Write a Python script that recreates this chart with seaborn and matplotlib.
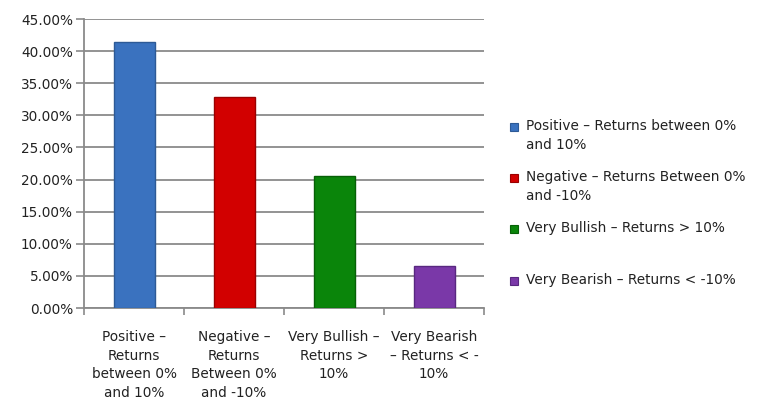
import matplotlib
matplotlib.use("Agg")
import matplotlib.pyplot as plt
import seaborn as sns
import pandas as pd
from matplotlib.patches import Rectangle
from matplotlib.ticker import FixedLocator

categories = ["Positive –\nReturns\nbetween 0%\nand 10%",
              "Negative –\nReturns\nBetween 0%\nand -10%",
              "Very Bullish –\nReturns >\n10%",
              "Very Bearish\n– Returns < -\n10%"]
values = [41.4, 32.9, 20.5, 6.6]
legend_labels = ["Positive – Returns between 0%\nand 10%",
                 "Negative – Returns Between 0%\nand -10%",
                 "Very Bullish – Returns > 10%",
                 "Very Bearish – Returns < -10%"]
colors = ["#3a72bf", "#d20000", "#0a850a", "#7a38a8"]
edges = ["#2d5a96", "#9a0000", "#066006", "#582880"]
yticks = [0, 5, 10, 15, 20, 25, 30, 35, 40, 45]

sns.set_style("white")
plt.rcParams['font.family'] = ['DejaVu Sans']

fig = plt.figure(figsize=(7.6, 4.11), dpi=100)
ax = fig.add_axes([84/760, 1-308/411, 400/760, 289/411])

df = pd.DataFrame({"cat": categories, "val": values})
sns.barplot(data=df, x="cat", y="val", hue="cat", palette=colors, width=0.41,
            legend=False, ax=ax, saturation=1)
for p, ec in zip(ax.patches, edges):
    p.set_edgecolor(ec)
    p.set_linewidth(1.0)
    p.set_zorder(3)

ax.set_xlim(-0.5, 3.5)
ax.set_ylim(0, 45)
ax.set_yticks(yticks)
ax.set_yticklabels([f"{v:.2f}%" for v in yticks], fontsize=9.8, color="#222222")
ax.yaxis.grid(True, color="#8a8a8a", linewidth=1.3, zorder=0)
ax.set_axisbelow(True)
ax.tick_params(axis="y", length=6, width=1.2, color="#8a8a8a", pad=2, left=True)
ax.xaxis.set_minor_locator(FixedLocator([-0.5, 0.5, 1.5, 2.5, 3.5]))
ax.tick_params(axis="x", which="minor", length=5, width=1.2, color="#8a8a8a", bottom=True)
ax.tick_params(axis="x", which="major", length=0, pad=16, labelsize=9.8, labelcolor="#222222")
for lbl in ax.get_xticklabels():
    lbl.set_linespacing(1.42)
ax.set_xlabel("")
ax.set_ylabel("")
for s in ["top", "right"]:
    ax.spines[s].set_visible(False)
for s in ["left", "bottom"]:
    ax.spines[s].set_color("#8a8a8a")
    ax.spines[s].set_linewidth(1.3)

# manual legend
tops = [119, 170, 221, 273]
for lab, c, ec, t in zip(legend_labels, colors, edges, tops):
    fig.patches.append(Rectangle((510/760, 1-(t+12)/411), 8/760, 8/411,
                                 transform=fig.transFigure, facecolor=c,
                                 edgecolor=ec, linewidth=0.8))
    fig.text(526/760, 1-t/411, lab, fontsize=9.8, va="top", ha="left",
             color="#222222", linespacing=1.42)

fig.savefig("out.png", dpi=100)
